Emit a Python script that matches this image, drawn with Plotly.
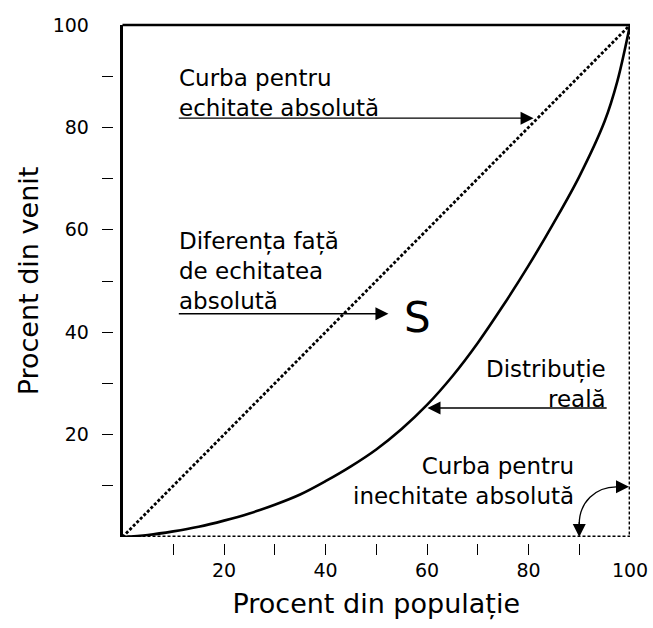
import plotly.graph_objects as go

# ---- data ----
pop_pct = [0, 5, 10, 15, 20, 25, 30, 35, 40, 45, 50, 55, 60, 65, 70, 75, 80, 85, 90, 95, 97.5, 100]
income_pct = [0, 0.4, 1.1, 2.0, 3.2, 4.6, 6.3, 8.3, 10.9, 13.8, 17.1, 21.1, 25.8, 31.4, 37.9,
              45.2, 53.0, 61.4, 70.4, 81.2, 89.0, 100]

equality_x = [0, 100]
equality_y = [0, 100]
inequality_x = [0, 100, 100]
inequality_y = [0, 0, 100]

major_ticks = [20, 40, 60, 80, 100]
major_labels = ["20", "40", "60", "80", "100"]
minor_ticks = [10, 20, 30, 40, 50, 60, 70, 80, 90]

FONT = "DejaVu Sans"
W, H = 653, 628
ML, MR, MT, MB = 100, 23, 25, 68
plot_w = W - ML - MR
plot_h = H - MT - MB

fig = go.Figure()
dot = "3px,2px"
fig.add_trace(go.Scatter(x=equality_x, y=equality_y, mode="lines",
                         line=dict(color="black", width=2.8, dash=dot),
                         cliponaxis=False, hoverinfo="skip"))
fig.add_trace(go.Scatter(x=inequality_x, y=inequality_y, mode="lines",
                         line=dict(color="black", width=2.8, dash=dot),
                         cliponaxis=False, hoverinfo="skip"))
fig.add_trace(go.Scatter(x=pop_pct, y=income_pct, mode="lines",
                         line=dict(color="black", width=2.6, shape="spline", smoothing=1.0),
                         cliponaxis=False, hoverinfo="skip"))

tfont = dict(family=FONT, size=23, color="black")

texts = [
    dict(x=10.8, y=86.7, text="Curba pentru<br>echitate absolută", xanchor="left", align="left"),
    dict(x=10.8, y=52.0, text="Diferența față<br>de echitatea<br>absolută", xanchor="left", align="left"),
    dict(x=95.7, y=29.9, text="Distribuție<br>reală", xanchor="right", align="right"),
    dict(x=89.3, y=10.9, text="Curba pentru<br>inechitate absolută", xanchor="right", align="right"),
]
for t in texts:
    fig.add_annotation(x=t["x"], y=t["y"], text=t["text"], xanchor=t["xanchor"],
                       yanchor="middle", align=t["align"], showarrow=False, font=tfont)

fig.add_annotation(x=58.2, y=42.8, text="S", showarrow=False, xanchor="center", yanchor="middle",
                   font=dict(family=FONT, size=42, color="black"))

# arrows: (head_x, head_y, tail_x, tail_y)
arrows = [
    (81.0, 81.8, 10.8, 81.8),
    (52.4, 43.6, 10.8, 43.6),
    (60.1, 25.2, 95.7, 25.2),
    (90.0, 0.0, 90.0, 3.2),
    (99.8, 9.8, 97.0, 9.8),
]
for hx, hy, tx, ty in arrows:
    fig.add_annotation(x=hx, y=hy, ax=tx, ay=ty, axref="x", ayref="y", text="",
                       showarrow=True, arrowhead=2, arrowsize=2.0, arrowwidth=1.3,
                       arrowcolor="black", standoff=0, startstandoff=0)

# curved connector for "inechitate absolută"
fig.add_shape(type="path", xref="x", yref="y",
              path="M 90,2.5 C 90,6.8 93.2,9.8 97.3,9.8",
              line=dict(color="black", width=1.3))
# top frame line
fig.add_shape(type="line", xref="x domain", yref="y domain", x0=0, x1=1, y0=1, y1=1,
              line=dict(color="black", width=2.6))

x_dom0 = 22.5 / plot_w
y_dom0 = 23 / plot_h

fig.update_layout(
    width=W, height=H, margin=dict(l=ML, r=MR, t=MT, b=MB),
    paper_bgcolor="white", plot_bgcolor="white", showlegend=False,
    font=dict(family=FONT, color="black"),
    xaxis=dict(domain=[x_dom0, 1], range=[0, 100], showgrid=False, zeroline=False,
               showline=False, ticks="", tickvals=major_ticks, ticktext=major_labels,
               tickfont=dict(size=19), ticklabelstandoff=20, automargin=False,
               title=dict(text="Procent din populație", font=dict(size=27), standoff=14)),
    yaxis=dict(domain=[y_dom0, 1], range=[0, 100], showgrid=False, zeroline=False,
               showline=True, linecolor="black", linewidth=2.6, ticks="",
               tickvals=major_ticks, ticktext=major_labels, automargin=False,
               tickfont=dict(size=19), ticklabelstandoff=27,
               title=dict(text="Procent din venit", font=dict(size=27), standoff=7)),
    yaxis2=dict(overlaying="y", anchor="free", position=13 / plot_w, range=[0, 100],
                showgrid=False, zeroline=False, showline=False, ticks="outside",
                ticklen=11, tickwidth=1.3, tickcolor="black", tickvals=minor_ticks,
                showticklabels=False),
    xaxis2=dict(overlaying="x", anchor="free", position=17 / plot_h, side="bottom",
                range=[0, 100], showgrid=False, zeroline=False, showline=False,
                ticks="outside", ticklen=11, tickwidth=1.3, tickcolor="black",
                tickvals=minor_ticks, showticklabels=False),
)
# attach invisible trace to the overlay axes so they render
fig.add_trace(go.Scatter(x=[None], y=[None], xaxis="x2", yaxis="y2", showlegend=False))

fig.write_html("out.html", config={"displayModeBar": False},
               post_script="document.body.style.margin='0';document.body.style.padding='0';")
